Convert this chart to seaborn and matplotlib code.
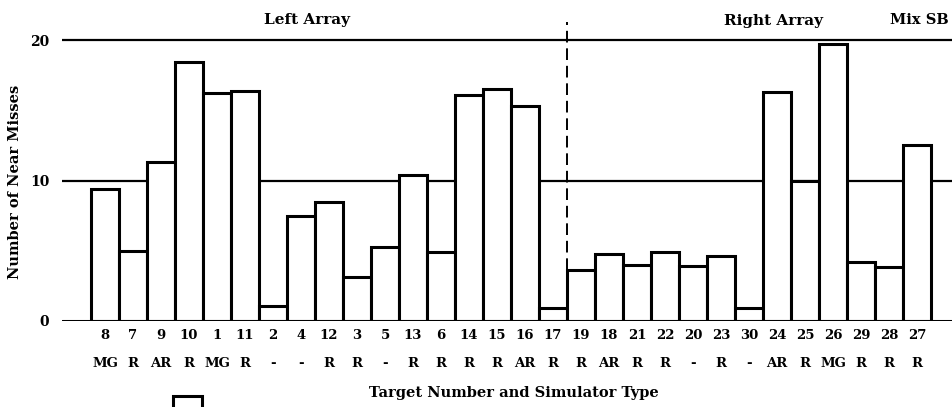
import matplotlib
matplotlib.use("Agg")
import matplotlib.pyplot as plt
from matplotlib.patches import Rectangle
import seaborn as sns
import pandas as pd

# Target numbers in plotted order, simulator types, and near-miss counts
targets = ["8", "7", "9", "10", "1", "11", "2", "4", "12", "3", "5", "13", "6", "14", "15",
           "16", "17", "19", "18", "21", "22", "20", "23", "30", "24", "25", "26", "29", "28", "27"]
sim_types = ["MG", "R", "AR", "R", "MG", "R", "-", "-", "R", "R", "-", "R", "R", "R", "R",
             "AR", "R", "R", "AR", "R", "R", "-", "R", "-", "AR", "R", "MG", "R", "R", "R"]
near_misses = [9.4, 5.0, 11.3, 18.4, 16.2, 16.4, 1.1, 7.5, 8.5, 3.1, 5.3, 10.4, 4.9, 16.1, 16.5,
               15.3, 0.9, 3.6, 4.8, 4.0, 4.9, 3.9, 4.6, 0.9, 16.3, 10.0, 19.7, 4.2, 3.85, 12.5]
y_ticks = [0, 10, 20]

df = pd.DataFrame({"target": targets, "misses": near_misses})

sns.set_theme(style="white")
plt.rcParams["font.family"] = ["DejaVu Serif"]
plt.rcParams["font.weight"] = "bold"
plt.rcParams["text.color"] = "black"
plt.rcParams["ytick.color"] = "black"
plt.rcParams["ytick.labelcolor"] = "black"

W, H = 953, 407
fig = plt.figure(figsize=(W / 100, H / 100), dpi=100)
ax = fig.add_axes([62 / W, 86 / H, 1 - 62 / W, 1 - 86 / H])

# reference lines behind the bars
for yv in (10, 20):
    ax.axhline(yv, color="black", lw=1.6, zorder=0)

sns.barplot(data=df, x="target", y="misses", order=targets, color="white",
            edgecolor="black", linewidth=2.2, width=1.0, saturation=1, ax=ax, zorder=2)

ax.axhline(0, color="black", lw=2.2, zorder=3)

x_left = (62 - 105) / 28
x_right = (953 - 105) / 28
ax.set_xlim(x_left, x_right)
ax.set_ylim(0, 321 / 14.05)

for s in ax.spines.values():
    s.set_visible(False)

ax.set_yticks(y_ticks)
ax.set_yticklabels([str(t) for t in y_ticks], fontsize=10, fontweight="bold", color="black")
ax.tick_params(axis="y", length=0, pad=9)
ax.set_xticks([])
ax.set_xlabel("")
ax.set_ylabel("")

# boundary between left and right arrays
ax.plot([16.5, 16.5], [near_misses[17], 21.3], color="black", lw=1.4,
        ls=(0, (6, 3)), zorder=4, clip_on=False)

# tick labels: target number row and simulator type row
for i, (t, s) in enumerate(zip(targets, sim_types)):
    ax.text(i, -1.0, t, ha="center", va="center", fontsize=9.5, fontweight="bold",
            color="black", clip_on=False)
    ax.text(i, -3.0, s, ha="center", va="center", fontsize=9.5, fontweight="bold",
            color="black", clip_on=False)

ax.text(14.6, -5.1, "Target Number and Simulator Type", ha="center", va="center",
        fontsize=10.5, fontweight="bold", color="black", clip_on=False)
ax.text(-3.2, 9.9, "Number of Near Misses", ha="center", va="center", rotation=90,
        fontsize=10.5, fontweight="bold", color="black", clip_on=False)

ax.text(7.2, 21.45, "Left Array", ha="center", va="center", fontsize=11,
        fontweight="bold", color="black")
ax.text(23.86, 21.35, "Right Array", ha="center", va="center", fontsize=11,
        fontweight="bold", color="black")
ax.text(30.14, 21.45, "Mix SB", ha="right", va="center", fontsize=10.5,
        fontweight="bold", color="black")

# legend key square at the bottom edge
fig.patches.append(Rectangle((173 / W, -0.02), 29 / W, 0.046, transform=fig.transFigure,
                             fill=False, edgecolor="black", lw=2.2, figure=fig))

fig.savefig("out.png", dpi=100)
